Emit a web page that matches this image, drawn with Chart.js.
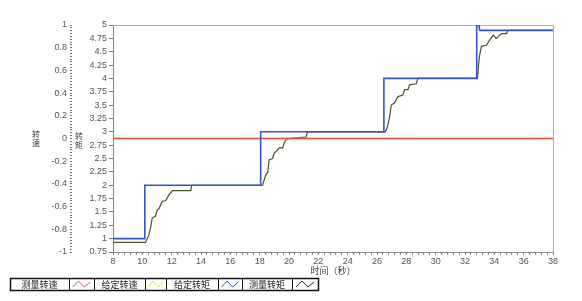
<!DOCTYPE html>
<html><head><meta charset="utf-8">
<script src="https://cdn.jsdelivr.net/npm/chart.js@4.4.1/dist/chart.umd.min.js"></script>
<style>html,body{margin:0;padding:0;background:#fff;}#wrap{width:582px;height:301px;}</style>
</head><body><div id="wrap"><canvas id="c" width="582" height="301"></canvas></div>
<script>
// ---- data ----
const timeLabelTicks = [8,10,12,14,16,18,20,22,24,26,28,30,32,34,36,38];
const speedLabelTicks = [-1,-0.8,-0.6,-0.4,-0.2,0,0.2,0.4,0.6,0.8,1];
const legendLabels = ['测量转速','给定转速','给定转矩','测量转矩'];

const speedTime = [8, 38];
const measuredSpeed = [0, 0];
const givenSpeed = [0, 0];

const givenTorqueTime = [8, 10.17, 10.17, 18.07, 18.07, 26.47, 26.47, 32.78, 32.8, 32.95, 33.0, 38];
const givenTorque     = [1, 1, 2, 2, 3, 3, 4, 4, 5, 5, 4.9, 4.9];

const measuredTorqueTime = [8, 10.22, 10.45, 10.56, 10.68, 10.9, 11.02, 11.13, 11.36, 11.59, 11.81, 12.05, 13.3, 13.37,
  18.2, 18.42, 18.55, 18.65, 18.88, 18.99, 19.22, 19.33, 19.57, 19.67, 19.79, 20.02, 21.16, 21.26,
  26.56, 26.69, 26.85, 26.97, 27.19, 27.43, 27.77, 27.88, 28.11, 28.22, 28.68, 28.79,
  32.85, 32.91, 32.98, 33.12, 33.46, 33.69, 33.92, 34.14, 34.37, 34.49, 34.83, 34.94, 38];
const measuredTorque = [0.93, 0.93, 1.07, 1.2, 1.39, 1.42, 1.54, 1.56, 1.7, 1.71, 1.82, 1.9, 1.9, 2.0,
  2.0, 2.2, 2.24, 2.48, 2.5, 2.6, 2.66, 2.7, 2.7, 2.79, 2.85, 2.88, 2.9, 3.0,
  3.0, 3.07, 3.26, 3.5, 3.54, 3.66, 3.69, 3.79, 3.79, 3.88, 3.9, 4.0,
  4.0, 4.2, 4.41, 4.6, 4.62, 4.72, 4.81, 4.75, 4.81, 4.84, 4.84, 4.9, 4.9];

const zip = (xs, ys) => xs.map((x, i) => ({x, y: ys[i]}));
const near = (arr, v) => arr.some(t => Math.abs(t - v) < 1e-6);

const COLORS = {speedMeas:'#e4553b', speedSet:'#e6d85a', torqueSet:'#3456c4', torqueMeas:'#45552a'};
const legendColors = [COLORS.speedMeas, COLORS.speedSet, COLORS.torqueSet, '#222'];

const deco = {
  id: 'deco',
  beforeDatasetsDraw(chart) {
    const {ctx, chartArea: a} = chart;
    ctx.save();
    ctx.strokeStyle = '#b0b0b0'; ctx.lineWidth = 1;
    ctx.beginPath();
    ctx.moveTo(a.left, Math.round(a.top) + 0.5);
    ctx.lineTo(Math.round(a.right) + 0.5, Math.round(a.top) + 0.5);
    ctx.lineTo(Math.round(a.right) + 0.5, a.bottom);
    ctx.stroke();
    ctx.restore();
  },
  afterDraw(chart) {
    const ctx = chart.ctx;
    ctx.save();
    // vertical axis titles (stacked characters)
    ctx.fillStyle = '#333';
    ctx.font = "8px 'Noto Sans CJK SC'";
    ctx.textAlign = 'center'; ctx.textBaseline = 'middle';
    ctx.fillText('转', 36, 134); ctx.fillText('速', 36, 143);
    ctx.fillText('转', 79, 136); ctx.fillText('矩', 79, 145);
    // legend
    const top = 278, h = 12;
    const edges = [10, 69, 94, 145, 166, 218, 242, 292, 318];
    ctx.strokeStyle = '#111'; ctx.lineWidth = 1;
    for (let i = 1; i < edges.length - 1; i++) {
      ctx.beginPath(); ctx.moveTo(edges[i] + 0.5, top); ctx.lineTo(edges[i] + 0.5, top + h); ctx.stroke();
    }
    ctx.lineWidth = 1.5;
    ctx.strokeRect(edges[0] + 0.5, top + 0.5, edges[edges.length - 1] - edges[0], h);
    ctx.font = "9px 'Noto Sans CJK SC'";
    ctx.fillStyle = '#222';
    ctx.textAlign = 'center'; ctx.textBaseline = 'middle';
    for (let k = 0; k < 4; k++) {
      const l0 = edges[2 * k], l1 = edges[2 * k + 1], i1 = edges[2 * k + 2];
      ctx.fillText(legendLabels[k], (l0 + l1) / 2, top + h / 2 + 0.5);
      const w = i1 - l1, x0 = l1 + w * 0.15, x1 = l1 + w * 0.85;
      ctx.strokeStyle = legendColors[k]; ctx.lineWidth = 1;
      ctx.beginPath();
      ctx.moveTo(x0, top + 9);
      ctx.lineTo(x0 + (x1 - x0) * 0.33, top + 3);
      ctx.lineTo(x0 + (x1 - x0) * 0.66, top + 9);
      ctx.lineTo(x1, top + 4);
      ctx.stroke();
    }
    ctx.restore();
  }
};

const tickFont = {family: "'Liberation Sans', Arial, sans-serif", size: 9};

new Chart(document.getElementById('c'), {
  type: 'line',
  data: {
    datasets: [
      {label: '给定转矩', data: zip(givenTorqueTime, givenTorque), yAxisID: 'yTorque', borderColor: COLORS.torqueSet, borderWidth: 1.6},
      {label: '测量转速', data: zip(speedTime, measuredSpeed), yAxisID: 'ySpeed', borderColor: COLORS.speedMeas, borderWidth: 1.4},
      {label: '给定转速', data: zip(speedTime, givenSpeed), yAxisID: 'ySpeed', borderColor: COLORS.speedSet, borderWidth: 1.4},
      {label: '测量转矩', data: zip(measuredTorqueTime, measuredTorque), yAxisID: 'yTorque', borderColor: COLORS.torqueMeas, borderWidth: 1.2}
    ]
  },
  options: {
    responsive: false, animation: false, devicePixelRatio: 1,
    layout: {padding: {left: 0, right: 29, top: 25, bottom: 25}},
    elements: {point: {radius: 0}, line: {tension: 0}},
    plugins: {legend: {display: false}, tooltip: {enabled: false}},
    scales: {
      x: {
        type: 'linear', position: 'bottom', min: 8, max: 38,
        ticks: {stepSize: 0.4, autoSkip: false, maxRotation: 0, color: '#555', font: tickFont, padding: 1,
          callback: v => near(timeLabelTicks, v) ? String(Math.round(v)) : ''},
        grid: {drawOnChartArea: false, tickLength: 3, color: '#888'},
        border: {color: '#888'},
        title: {display: true, text: '时间（秒）', color: '#444', font: {family: "'Noto Sans CJK SC'", size: 9}, padding: {top: 0, bottom: 0}},
        afterFit: s => { s.height = 24; }
      },
      ySpeed: {
        type: 'linear', position: 'left', weight: 10, min: -1, max: 1,
        ticks: {stepSize: 0.025, autoSkip: false, color: '#555', font: tickFont, padding: 3,
          callback: v => near(speedLabelTicks, v) ? String(Math.round(v * 10) / 10) : ''},
        grid: {drawOnChartArea: false, tickLength: 2, color: '#777'},
        border: {display: false},
        afterFit: s => { s.width = 72; }
      },
      yTorque: {
        type: 'linear', position: 'left', weight: 0, min: 0.75, max: 5,
        ticks: {stepSize: 0.25, autoSkip: false, color: '#555', font: tickFont, padding: 2,
          callback: v => String(v)},
        grid: {drawOnChartArea: false, tickLength: 4, color: '#777'},
        border: {color: '#888'},
        afterFit: s => { s.width = 41; }
      }
    }
  },
  plugins: [deco]
});
</script></body></html>
